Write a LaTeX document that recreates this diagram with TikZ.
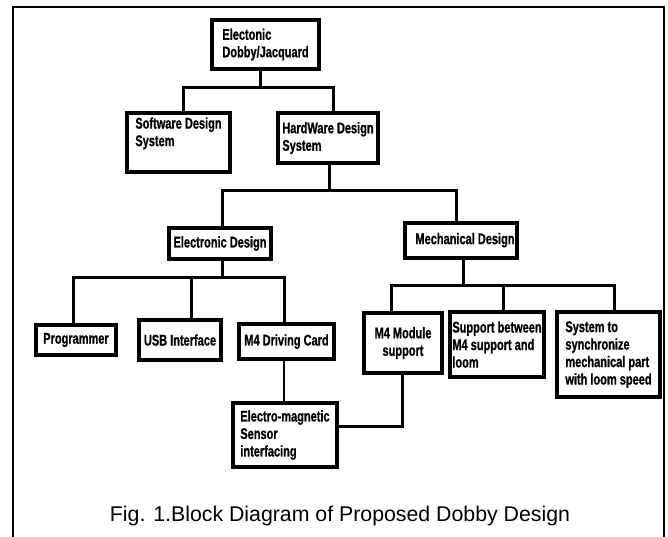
\documentclass[tikz,border=0pt]{standalone}
\usepackage{fontspec}
\setmainfont{Liberation Sans}
\newfontfamily\boxfont[FakeStretch=0.71,FakeBold=0.8]{Liberation Sans}
\begin{document}
\begin{tikzpicture}[x=1pt,y=-1pt,
  box/.style={draw, line width=3.3pt, inner sep=0pt, outer sep=0pt,
    font=\boxfont\bfseries\fontsize{15.5}{17.5}\selectfont, align=left},
  boxc/.style={box, align=center},
  conn/.style={line width=3pt},
  thinconn/.style={line width=2.2pt}]
\useasboundingbox (0,0) rectangle (668,536);
\draw[line width=1.8pt] (13,545) -- (13,7) -- (664,7) -- (664,545);

\node[box, minimum width=107, minimum height=49] (top) at (265.5,44.5) {Electonic\\Dobby/Jacquard};
\node[box, minimum width=103, minimum height=59] (sw) at (178.5,142.5) {Software Design\\System\\[4pt]};
\node[box, minimum width=100, minimum height=50] (hw) at (328,138) {HardWare Design\\System};
\node[boxc, minimum width=102, minimum height=31] (ed) at (220,243.5) {Electronic Design};
\node[boxc, minimum width=112, minimum height=35] (md) at (461,240.5) {\raisebox{4pt}{\hspace*{8pt}Mechanical Design}};
\node[boxc, minimum width=80, minimum height=30] (prog) at (76,340) {Programmer};
\node[boxc, minimum width=82, minimum height=40] (usb) at (180,340) {USB Interface};
\node[boxc, minimum width=95, minimum height=35] (m4d) at (286.5,341.5) {M4 Driving Card};
\node[boxc, minimum width=78, minimum height=60] (m4m) at (403,343) {M4 Module\\support};
\node[box, minimum width=94, minimum height=65] (sup) at (497,344.5) {Support between\\M4 support and\\loom};
\node[box, minimum width=103, minimum height=85] (sys) at (608.5,354.5) {System to\\synchronize\\mechanical part\\with loom speed};
\node[box, minimum width=104, minimum height=64] (em) at (285,435) {Electro-magnetic\\Sensor\\interfacing};

\coordinate (b1) at (0,87);
\coordinate (b2) at (0,190);
\coordinate (b3) at (0,277);
\coordinate (b4) at (0,285);

\draw[conn] ([xshift=-5.5pt]top.south) -- ([xshift=-5.5pt]top.south |- b1);
\draw[conn] ([xshift=4.5pt]sw.north) |- ([xshift=5pt]hw.north |- b1) -- ([xshift=5pt]hw.north);

\draw[conn] ([xshift=1pt]hw.south) -- ([xshift=1pt]hw.south |- b2);
\draw[conn] ([xshift=2pt]ed.north) |- ([xshift=-5pt]md.north |- b2) -- ([xshift=-5pt]md.north);

\draw[conn] ([xshift=2pt]ed.south) -- ([xshift=2pt]ed.south |- b3);
\draw[conn] ([xshift=-3pt]prog.north) |- ([xshift=-2.5pt]m4d.north |- b3) -- ([xshift=-2.5pt]m4d.north);
\draw[conn] ([xshift=11pt]usb.north) -- ([xshift=11pt]usb.north |- b3);

\draw[conn] ([xshift=2pt]md.south) -- ([xshift=2pt]md.south |- b4);
\draw[conn] ([xshift=-12pt]m4m.north) |- ([xshift=5.5pt]sys.north |- b4) -- ([xshift=5.5pt]sys.north);
\draw[conn] ([xshift=6pt]sup.north) -- ([xshift=6pt]sup.north |- b4);

\draw[thinconn] ([xshift=-2.5pt]m4d.south) -- ([xshift=-1pt]em.north);
\draw[conn] ([yshift=9pt]em.east) -| ([xshift=-1pt]m4m.south);

\node[font=\fontsize{21.3}{25}\selectfont, anchor=base, inner sep=0pt] (cap) at (340,521) {Fig. 1.Block Diagram of Proposed Dobby Design};
\end{tikzpicture}
\end{document}
